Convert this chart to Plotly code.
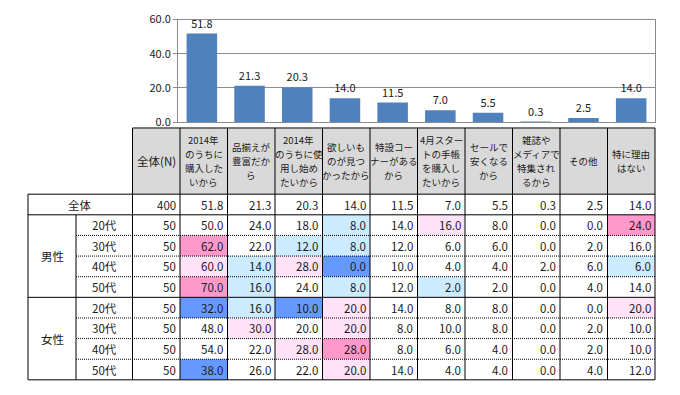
import plotly.graph_objects as go

# ---------------- data ----------------
reasons = [
    "2014年<br>のうちに<br>購入した<br>いから",
    "品揃えが<br>豊富だか<br>ら",
    "2014年<br>のうちに使<br>用し始め<br>たいから",
    "欲しいも<br>のが見つ<br>かったから",
    "特設コー<br>ナーがある<br>から",
    "4月スター<br>トの手帳<br>を購入し<br>たいから",
    "セールで<br>安くなる<br>から",
    "雑誌や<br>メディアで<br>特集され<br>るから",
    "その他",
    "特に理由<br>はない",
]
overall = [51.8, 21.3, 20.3, 14.0, 11.5, 7.0, 5.5, 0.3, 2.5, 14.0]
overall_n = 400

genders = ["男性", "女性"]
ages = ["20代", "30代", "40代", "50代"]
group_n = [50, 50, 50, 50, 50, 50, 50, 50]

male_20 = [50.0, 24.0, 18.0, 8.0, 14.0, 16.0, 8.0, 0.0, 0.0, 24.0]
male_30 = [62.0, 22.0, 12.0, 8.0, 12.0, 6.0, 6.0, 0.0, 2.0, 16.0]
male_40 = [60.0, 14.0, 28.0, 0.0, 10.0, 4.0, 4.0, 2.0, 6.0, 6.0]
male_50 = [70.0, 16.0, 24.0, 8.0, 12.0, 2.0, 2.0, 0.0, 4.0, 14.0]
female_20 = [32.0, 16.0, 10.0, 20.0, 14.0, 8.0, 8.0, 0.0, 0.0, 20.0]
female_30 = [48.0, 30.0, 20.0, 20.0, 8.0, 10.0, 8.0, 0.0, 2.0, 10.0]
female_40 = [54.0, 22.0, 28.0, 28.0, 8.0, 6.0, 4.0, 0.0, 2.0, 10.0]
female_50 = [38.0, 26.0, 22.0, 20.0, 14.0, 4.0, 4.0, 0.0, 4.0, 12.0]

group_rows = [male_20, male_30, male_40, male_50,
              female_20, female_30, female_40, female_50]

# ---------------- style ----------------
FONT = "Noto Sans CJK JP"
BAR_COLOR = "#4f81bd"
HEADER_FILL = "#d9d9d9"
DARK_PINK = "#ff99cc"
LIGHT_PINK = "#ffe1f8"
LIGHT_BLUE = "#cdebff"
BLUE = "#6699ff"
TEXT = "#1a1a1a"
W, H = 680, 395

# table geometry in table-axis units (column unit = one reason column)
COL_PX = 47.5
COL0_PX = 180.0           # left edge of first reason column
ROW_PX = 21.5
ROW0_PX = 193.0           # top of 全体 row
N_LEFT = -1.5
AGE_LEFT = -0.5 + (76 - COL0_PX) / COL_PX
GEN_LEFT = -0.5 + (28 - COL0_PX) / COL_PX
HEAD_TOP = (124 - ROW0_PX) / ROW_PX
NCOL = len(reasons)
RIGHT = NCOL - 0.5
NROWS = 1 + len(group_rows)
HEAD_LINE = 14.5 / ROW_PX  # header line pitch


def cell_color(v, base):
    d = v - base
    if d >= 10 - 1e-9:
        return DARK_PINK
    if d >= 5 - 1e-9:
        return LIGHT_PINK
    if d <= -10 + 1e-9:
        return BLUE
    if d <= -5 + 1e-9:
        return LIGHT_BLUE
    return None


fig = go.Figure()

fig.add_trace(go.Bar(
    x=reasons, y=overall,
    marker=dict(color=BAR_COLOR, line=dict(width=0)),
    width=0.64,
    text=[f"{v:.1f}" for v in overall],
    textposition="outside",
    textfont=dict(family=FONT, size=11, color=TEXT),
    cliponaxis=False,
    hoverinfo="skip",
))

# invisible trace to activate table axes
fig.add_trace(go.Scatter(x=[0], y=[0], xaxis="x2", yaxis="y2",
                         mode="markers", marker=dict(opacity=0),
                         hoverinfo="skip", showlegend=False))

shapes = []
annos = []


def rect(x0, x1, y0, y1, fill):
    shapes.append(dict(type="rect", xref="x2", yref="y2", x0=x0, x1=x1,
                       y0=y0, y1=y1, fillcolor=fill, line=dict(width=0),
                       layer="below"))


def line(x0, x1, y0, y1, dash="solid"):
    shapes.append(dict(type="line", xref="x2", yref="y2", x0=x0, x1=x1,
                       y0=y0, y1=y1, line=dict(color="#000000", width=1, dash=dash),
                       layer="above"))


def txt(x, y, s, anchor="center", size=11):
    annos.append(dict(xref="x2", yref="y2", x=x, y=y, text=s, showarrow=False,
                      xanchor=anchor, yanchor="middle",
                      font=dict(family=FONT, size=size, color=TEXT)))


# header
rect(N_LEFT, RIGHT, HEAD_TOP, 0, HEADER_FILL)
txt((N_LEFT - 0.5) / 2, HEAD_TOP / 2, "全体(N)", size=11.5)
for j, r in enumerate(reasons):
    parts = r.split("<br>")
    n = len(parts)
    for k, p in enumerate(parts):
        yy = HEAD_TOP / 2 + (k - (n - 1) / 2) * HEAD_LINE
        txt(j, yy, p, size=9.5)

# cell fills
for i, row in enumerate(group_rows):
    for j, v in enumerate(row):
        c = cell_color(v, overall[j])
        if c:
            rect(j - 0.5, j + 0.5, i + 1, i + 2, c)

# values
PAD = 2.5 / COL_PX
txt(-0.5 - PAD, 0.5, str(overall_n), anchor="right", size=11.5)
for j, v in enumerate(overall):
    txt(j + 0.5 - PAD, 0.5, f"{v:.1f}", anchor="right", size=11.5)
for i, row in enumerate(group_rows):
    y = i + 1.5
    txt(-0.5 - PAD, y, str(group_n[i]), anchor="right", size=11.5)
    for j, v in enumerate(row):
        txt(j + 0.5 - PAD, y, f"{v:.1f}", anchor="right", size=11.5)

# row labels
txt((GEN_LEFT + N_LEFT) / 2, 0.5, "全体", size=11.5)
for g, gname in enumerate(genders):
    txt((GEN_LEFT + AGE_LEFT) / 2, 1 + g * len(ages) + len(ages) / 2, gname, size=11.5)
    for a, aname in enumerate(ages):
        txt((AGE_LEFT + N_LEFT) / 2, 1 + g * len(ages) + a + 0.5, aname, size=11.5)

# borders
line(N_LEFT, RIGHT, HEAD_TOP, HEAD_TOP)
line(GEN_LEFT, RIGHT, 0, 0)
line(GEN_LEFT, RIGHT, 1, 1)
line(GEN_LEFT, RIGHT, 1 + len(ages), 1 + len(ages))
line(GEN_LEFT, RIGHT, NROWS, NROWS)
for g in range(len(genders)):
    for a in range(1, len(ages)):
        yy = 1 + g * len(ages) + a
        line(AGE_LEFT, RIGHT, yy, yy, dash="1px,1px")
line(GEN_LEFT, GEN_LEFT, 0, NROWS)
line(AGE_LEFT, AGE_LEFT, 1, NROWS)
line(N_LEFT, N_LEFT, HEAD_TOP, NROWS)
for j in range(NCOL + 1):
    line(j - 0.5, j - 0.5, HEAD_TOP, NROWS)

x2_lo = -0.5 - COL0_PX / COL_PX
x2_hi = -0.5 + (W - COL0_PX) / COL_PX
y2_top = -ROW0_PX / ROW_PX
y2_bot = (H - ROW0_PX) / ROW_PX

fig.update_layout(
    width=W, height=H,
    margin=dict(l=0, r=0, t=0, b=0),
    paper_bgcolor="white", plot_bgcolor="rgba(0,0,0,0)",
    showlegend=False,
    font=dict(family=FONT, size=11, color=TEXT),
    xaxis=dict(domain=[178 / W, 655 / W], range=[-0.5, 9.5],
               showticklabels=False, ticks="", showgrid=False,
               showline=True, linecolor="#8c8c8c", linewidth=1, mirror=True,
               zeroline=False, fixedrange=True),
    yaxis=dict(domain=[1 - 118 / H, 1 - 11 / H], range=[0, 60], dtick=20,
               tickformat=".1f", showgrid=True, gridcolor="#8c8c8c", gridwidth=1,
               showline=True, linecolor="#8c8c8c", linewidth=1, mirror=True,
               ticks="outside", ticklen=4, tickcolor="#8c8c8c",
               tickfont=dict(family=FONT, size=11, color=TEXT),
               zeroline=False, fixedrange=True),
    xaxis2=dict(domain=[0, 1], range=[x2_lo, x2_hi], visible=False,
                anchor="y2", fixedrange=True),
    yaxis2=dict(domain=[0, 1], range=[y2_bot, y2_top], visible=False,
                anchor="x2", fixedrange=True),
    shapes=shapes,
    annotations=annos,
    bargap=0.36,
)

fig.write_html(
    "out.html",
    config={"displayModeBar": False},
    post_script="document.body.style.margin='0px';document.body.style.overflow='hidden';",
)
